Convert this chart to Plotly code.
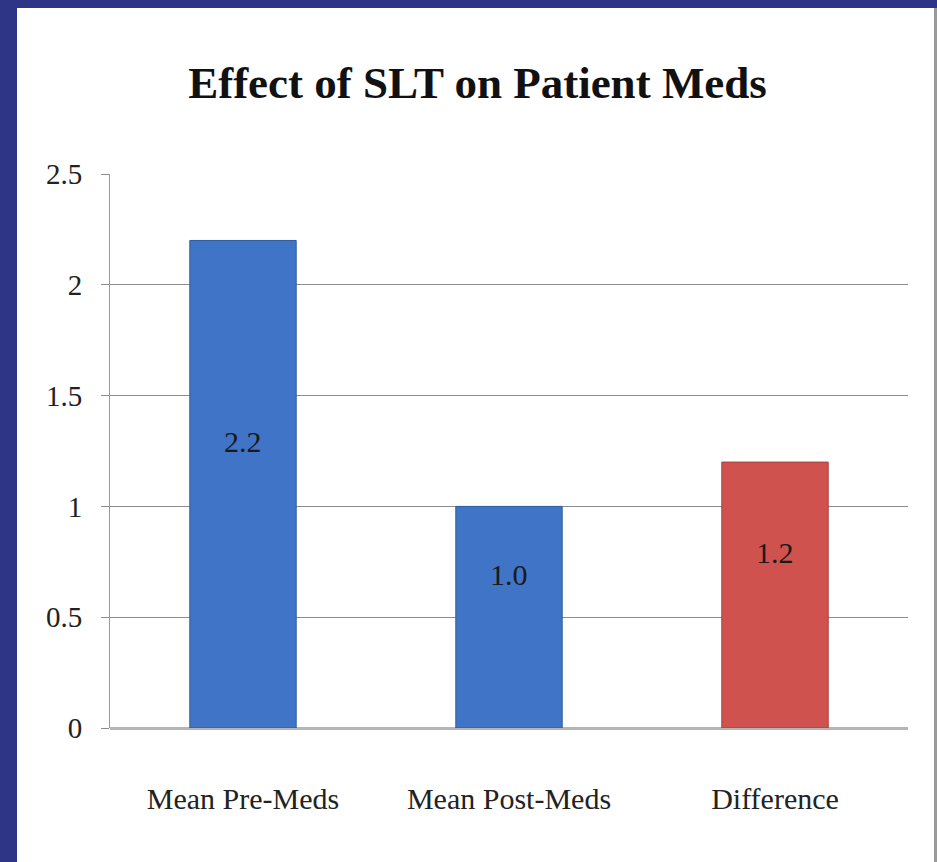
import plotly.graph_objects as go

categories = ["Mean Pre-Meds", "Mean Post-Meds", "Difference"]
values = [2.2, 1.0, 1.2]
value_labels = ["2.2", "1.0", "1.2"]
bar_colors = ["#3F74C6", "#3F74C6", "#CF524E"]
edge_colors = ["#2F5C9E", "#2F5C9E", "#A83F3C"]
y_ticks = [0, 0.5, 1, 1.5, 2, 2.5]
y_tick_text = ["0", "0.5", "1", "1.5", "2", "2.5"]

SERIF = "Liberation Serif, Times New Roman, serif"

W, H = 937, 862
L, R, T, B = 110, 29, 174, 134
PW, PH = W - L - R, H - T - B

def px_x(p):
    return (p - L) / PW

def px_y(p):
    return (H - B - p) / PH

fig = go.Figure()
fig.add_trace(go.Bar(
    x=categories, y=values, width=0.40,
    marker=dict(color=bar_colors, line=dict(color=edge_colors, width=1)),
    hoverinfo="skip",
))

for c, v, t in zip(categories, values, value_labels):
    fig.add_annotation(x=c, y=v / 2, text=t, showarrow=False, yshift=43,
                       font=dict(family=SERIF, size=30, color="#1a1a1a"))

shapes = [
    dict(type="rect", xref="paper", yref="paper", x0=px_x(0), x1=px_x(17),
         y0=px_y(H), y1=px_y(0), fillcolor="#2E3486", line=dict(width=0), layer="above"),
    dict(type="rect", xref="paper", yref="paper", x0=px_x(0), x1=px_x(W),
         y0=px_y(8), y1=px_y(0), fillcolor="#2E3486", line=dict(width=0), layer="above"),
    dict(type="rect", xref="paper", yref="paper", x0=px_x(934), x1=px_x(937),
         y0=px_y(H), y1=px_y(8), fillcolor="#9A9A9A", line=dict(width=0), layer="above"),
]

fig.update_layout(
    width=W, height=H,
    margin=dict(l=L, r=R, t=T, b=B, pad=0),
    paper_bgcolor="white", plot_bgcolor="white",
    showlegend=False,
    shapes=shapes,
    title=dict(text="<b>Effect of SLT on Patient Meds</b>", x=(183 + 772) / 2 / W, xanchor="center",
               y=1 - 82 / H, yanchor="middle", yref="container",
               font=dict(family=SERIF, size=45, color="#111111")),
    xaxis=dict(showgrid=False, showline=False, ticks="", zeroline=False,
               tickfont=dict(family=SERIF, size=30, color="#222222"),
               ticklabelstandoff=50),
    yaxis=dict(range=[0, 2.5], tickvals=y_ticks, ticktext=y_tick_text,
               showgrid=True, gridcolor="#8C8C8C", gridwidth=1,
               zeroline=True, zerolinecolor="#B5B5B5", zerolinewidth=3,
               showline=True, linecolor="#9A9A9A", linewidth=1,
               ticks="outside", ticklen=8, tickcolor="#8C8C8C",
               tickfont=dict(family=SERIF, size=29, color="#222222"),
               ticklabelstandoff=13),
)

fig.write_html("out.html", config={"displayModeBar": False})

with open("out.html", "r", encoding="utf-8") as f:
    html = f.read()
html = html.replace("<head>", "<head><style>html,body{margin:0;padding:0;overflow:hidden;}</style>", 1)
with open("out.html", "w", encoding="utf-8") as f:
    f.write(html)
